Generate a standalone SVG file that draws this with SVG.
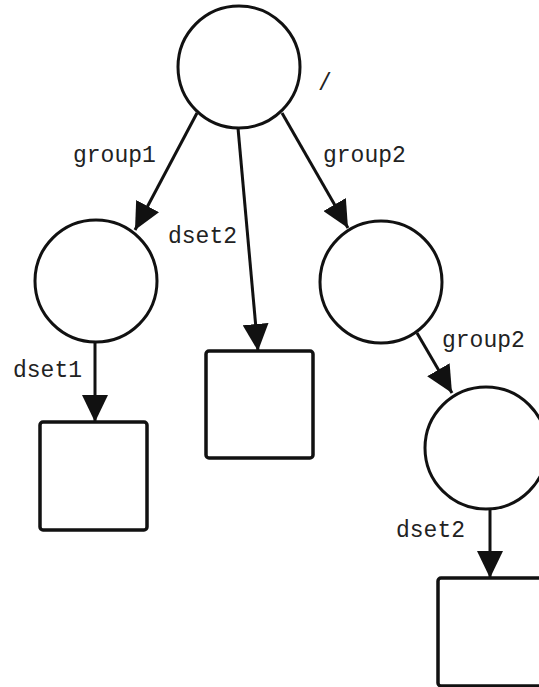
<svg xmlns="http://www.w3.org/2000/svg" width="539" height="687" viewBox="0 0 539 687">
<style>
.n{fill:#fff;stroke:#111;stroke-width:3}
.r{fill:#fff;stroke:#111;stroke-width:3.5}
.e{fill:none;stroke:#111;stroke-width:3}
.t{font-family:"Liberation Mono","Courier New",monospace;font-size:23px;fill:#222}
</style>
<defs>
<marker id="ah" markerUnits="userSpaceOnUse" markerWidth="27" markerHeight="26" refX="27" refY="13" orient="auto" viewBox="0 0 27 26">
<path d="M0,0 L27,13 L0,26 z" fill="#111"/>
</marker>
</defs>
<rect width="539" height="687" fill="#fff"/>
<g id="connectors">
<line class="e" x1="197" y1="113" x2="135" y2="230" marker-end="url(#ah)"/>
<line class="e" x1="238" y1="128" x2="258" y2="351" marker-end="url(#ah)"/>
<line class="e" x1="282" y1="113" x2="348" y2="228" marker-end="url(#ah)"/>
<line class="e" x1="417" y1="333" x2="452" y2="393" marker-end="url(#ah)"/>
<line class="e" x1="95" y1="343" x2="95" y2="422" marker-end="url(#ah)"/>
<line class="e" x1="490" y1="509" x2="490" y2="578" marker-end="url(#ah)"/>
</g>
<g id="root"><circle class="n" cx="239" cy="67" r="61"/><text class="t" x="318" y="90">/</text></g>
<g id="group1"><circle class="n" cx="96" cy="281" r="61"/></g>
<g id="group2"><circle class="n" cx="381" cy="282" r="61"/></g>
<g id="group2b"><circle class="n" cx="486" cy="448" r="61"/></g>
<g id="dset1"><rect class="r" x="40" y="422" width="107" height="108" rx="3"/></g>
<g id="dset2a"><rect class="r" x="206" y="351" width="107" height="107" rx="3"/></g>
<g id="dset2b"><rect class="r" x="438" y="578" width="107" height="108" rx="3"/></g>
<g id="labels">
<text class="t" x="73" y="162">group1</text>
<text class="t" x="168" y="243">dset2</text>
<text class="t" x="323" y="162">group2</text>
<text class="t" x="442" y="347">group2</text>
<text class="t" x="13" y="377">dset1</text>
<text class="t" x="396" y="537">dset2</text>
</g>
</svg>
